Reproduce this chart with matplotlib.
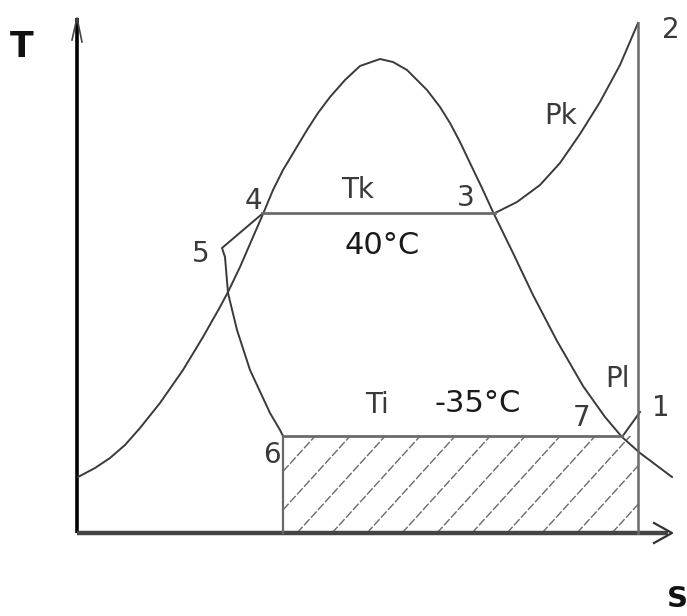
import numpy as np
import matplotlib
matplotlib.use("Agg")
import matplotlib.pyplot as plt
from matplotlib.patches import Rectangle

# ── Data (pixel coords, y grows downward) ────────────────────────────────────

# saturation dome
dome_x = [78, 95, 110, 125, 140, 160, 183, 203, 220, 228, 240, 253, 263, 273,
          283, 295, 307, 318, 330, 345, 360, 380, 393, 407, 417, 427, 440, 450,
          460, 470, 482, 493, 513, 533, 557, 583, 605, 622, 640, 672]
dome_y = [477, 468, 458, 445, 428, 403, 370, 337, 307, 292, 267, 237, 214, 190,
          170, 150, 130, 113, 97, 80, 66, 59, 62, 70, 80, 90, 107, 123,
          142, 163, 188, 212, 253, 295, 341, 386, 417, 437, 453, 477]

# condensing isobar Pk: 3 -> 2
pk_x = [495, 517, 540, 560, 580, 600, 620, 638]
pk_y = [213, 202, 185, 163, 134, 102, 65, 23]

# evaporating isobar Pl: 7 -> 1
pl_x = [622, 640]
pl_y = [437, 412]

# subcooling + throttling: 4 -> 5 -> 6
sub_x = [262, 222, 225, 228, 237, 250, 270, 280, 283]
sub_y = [214, 248, 257, 293, 330, 370, 413, 430, 436]

# state points
T_k_y = 213          # 4-3
T_i_y = 436          # 6-7
s_4, s_3 = 262, 495
s_6, s_7 = 283, 622
s_12 = 638           # 1-2 (isentropic)
s_2_y = 23
axis_x0, axis_y0 = 77, 533
axis_x1, axis_y1 = 672, 18

labels = [("2", 671, 30), ("Pk", 561, 116), ("Tk", 358, 190), ("3", 466, 198),
          ("4", 253, 201), ("5", 201, 254), ("6", 272, 455), ("Ti", 377, 405),
          ("7", 582, 418), ("Pl", 617, 379), ("1", 661, 408)]
temps = [("40°C", 382, 245), ("-35°C", 478, 404)]

# ── Plot ─────────────────────────────────────────────────────────────────────

W, H = 687, 616
fig = plt.figure(figsize=(W / 100, H / 100), dpi=100)
ax = fig.add_axes([0, 0, 1, 1])
ax.set_xlim(0, W)
ax.set_ylim(H, 0)
ax.axis("off")

line_c = "#3a3a3a"
grey = "#6a6a6a"

# hatched area under 6-7-1
rect = Rectangle((s_6, T_i_y), s_12 - s_6, axis_y0 - T_i_y,
                 facecolor="none", edgecolor="none")
ax.add_patch(rect)
hatch_step = 35
hatch_slope = 1.1
for xb in np.arange(s_6 + 14 - 4 * hatch_step, s_12 + hatch_step, hatch_step):
    h, = ax.plot([xb, xb + (axis_y0 - 300) / hatch_slope], [axis_y0, 300],
                 color=grey, lw=1.0, ls=(0, (6, 1.5)))
    h.set_clip_path(rect)

# axes with arrows
ax.plot([axis_x0, axis_x0], [axis_y0, axis_y1], color="black", lw=2.6,
        solid_capstyle="butt")
ax.plot([axis_x0, axis_x1 - 4], [axis_y0, axis_y0], color="#444444", lw=3.2,
        solid_capstyle="butt")
ax.plot([axis_x1 - 18, axis_x1, axis_x1 - 18], [axis_y0 - 10, axis_y0, axis_y0 + 10],
        color="#333333", lw=1.6)
ax.plot([axis_x0 - 5, axis_x0, axis_x0 + 5], [axis_y1 + 22, axis_y1, axis_y1 + 24],
        color="#444444", lw=1.2)

# cycle lines
ax.plot(dome_x, dome_y, color=line_c, lw=1.4)
ax.plot(pk_x, pk_y, color=line_c, lw=1.4)
ax.plot(pl_x, pl_y, color=line_c, lw=1.4)
ax.plot(sub_x, sub_y, color=line_c, lw=1.4)
ax.plot([s_4, s_3], [T_k_y, T_k_y], color=grey, lw=2.0)
ax.plot([s_6, s_7], [T_i_y, T_i_y], color=grey, lw=2.0)
ax.plot([s_6, s_6], [T_i_y, axis_y0], color=grey, lw=1.6)
ax.plot([s_12, s_12], [s_2_y, axis_y0], color=grey, lw=1.8)

# text
thin = ["Liberation Sans Narrow", "DejaVu Sans"]
for txt, x, y in labels:
    ax.text(x, y, txt, ha="center", va="center", fontsize=20,
            family=thin, color="#3a3a3a")
for txt, x, y in temps:
    ax.text(x, y, txt, ha="center", va="center", fontsize=22,
            family="DejaVu Sans", color="#1a1a1a")
ax.text(22, 47, "T", ha="center", va="center", fontsize=25,
        fontweight="bold", color="#111111")
ax.text(677, 599, "S", ha="center", va="center", fontsize=21,
        fontweight="bold", color="#111111")

fig.savefig("out.png", dpi=100)
